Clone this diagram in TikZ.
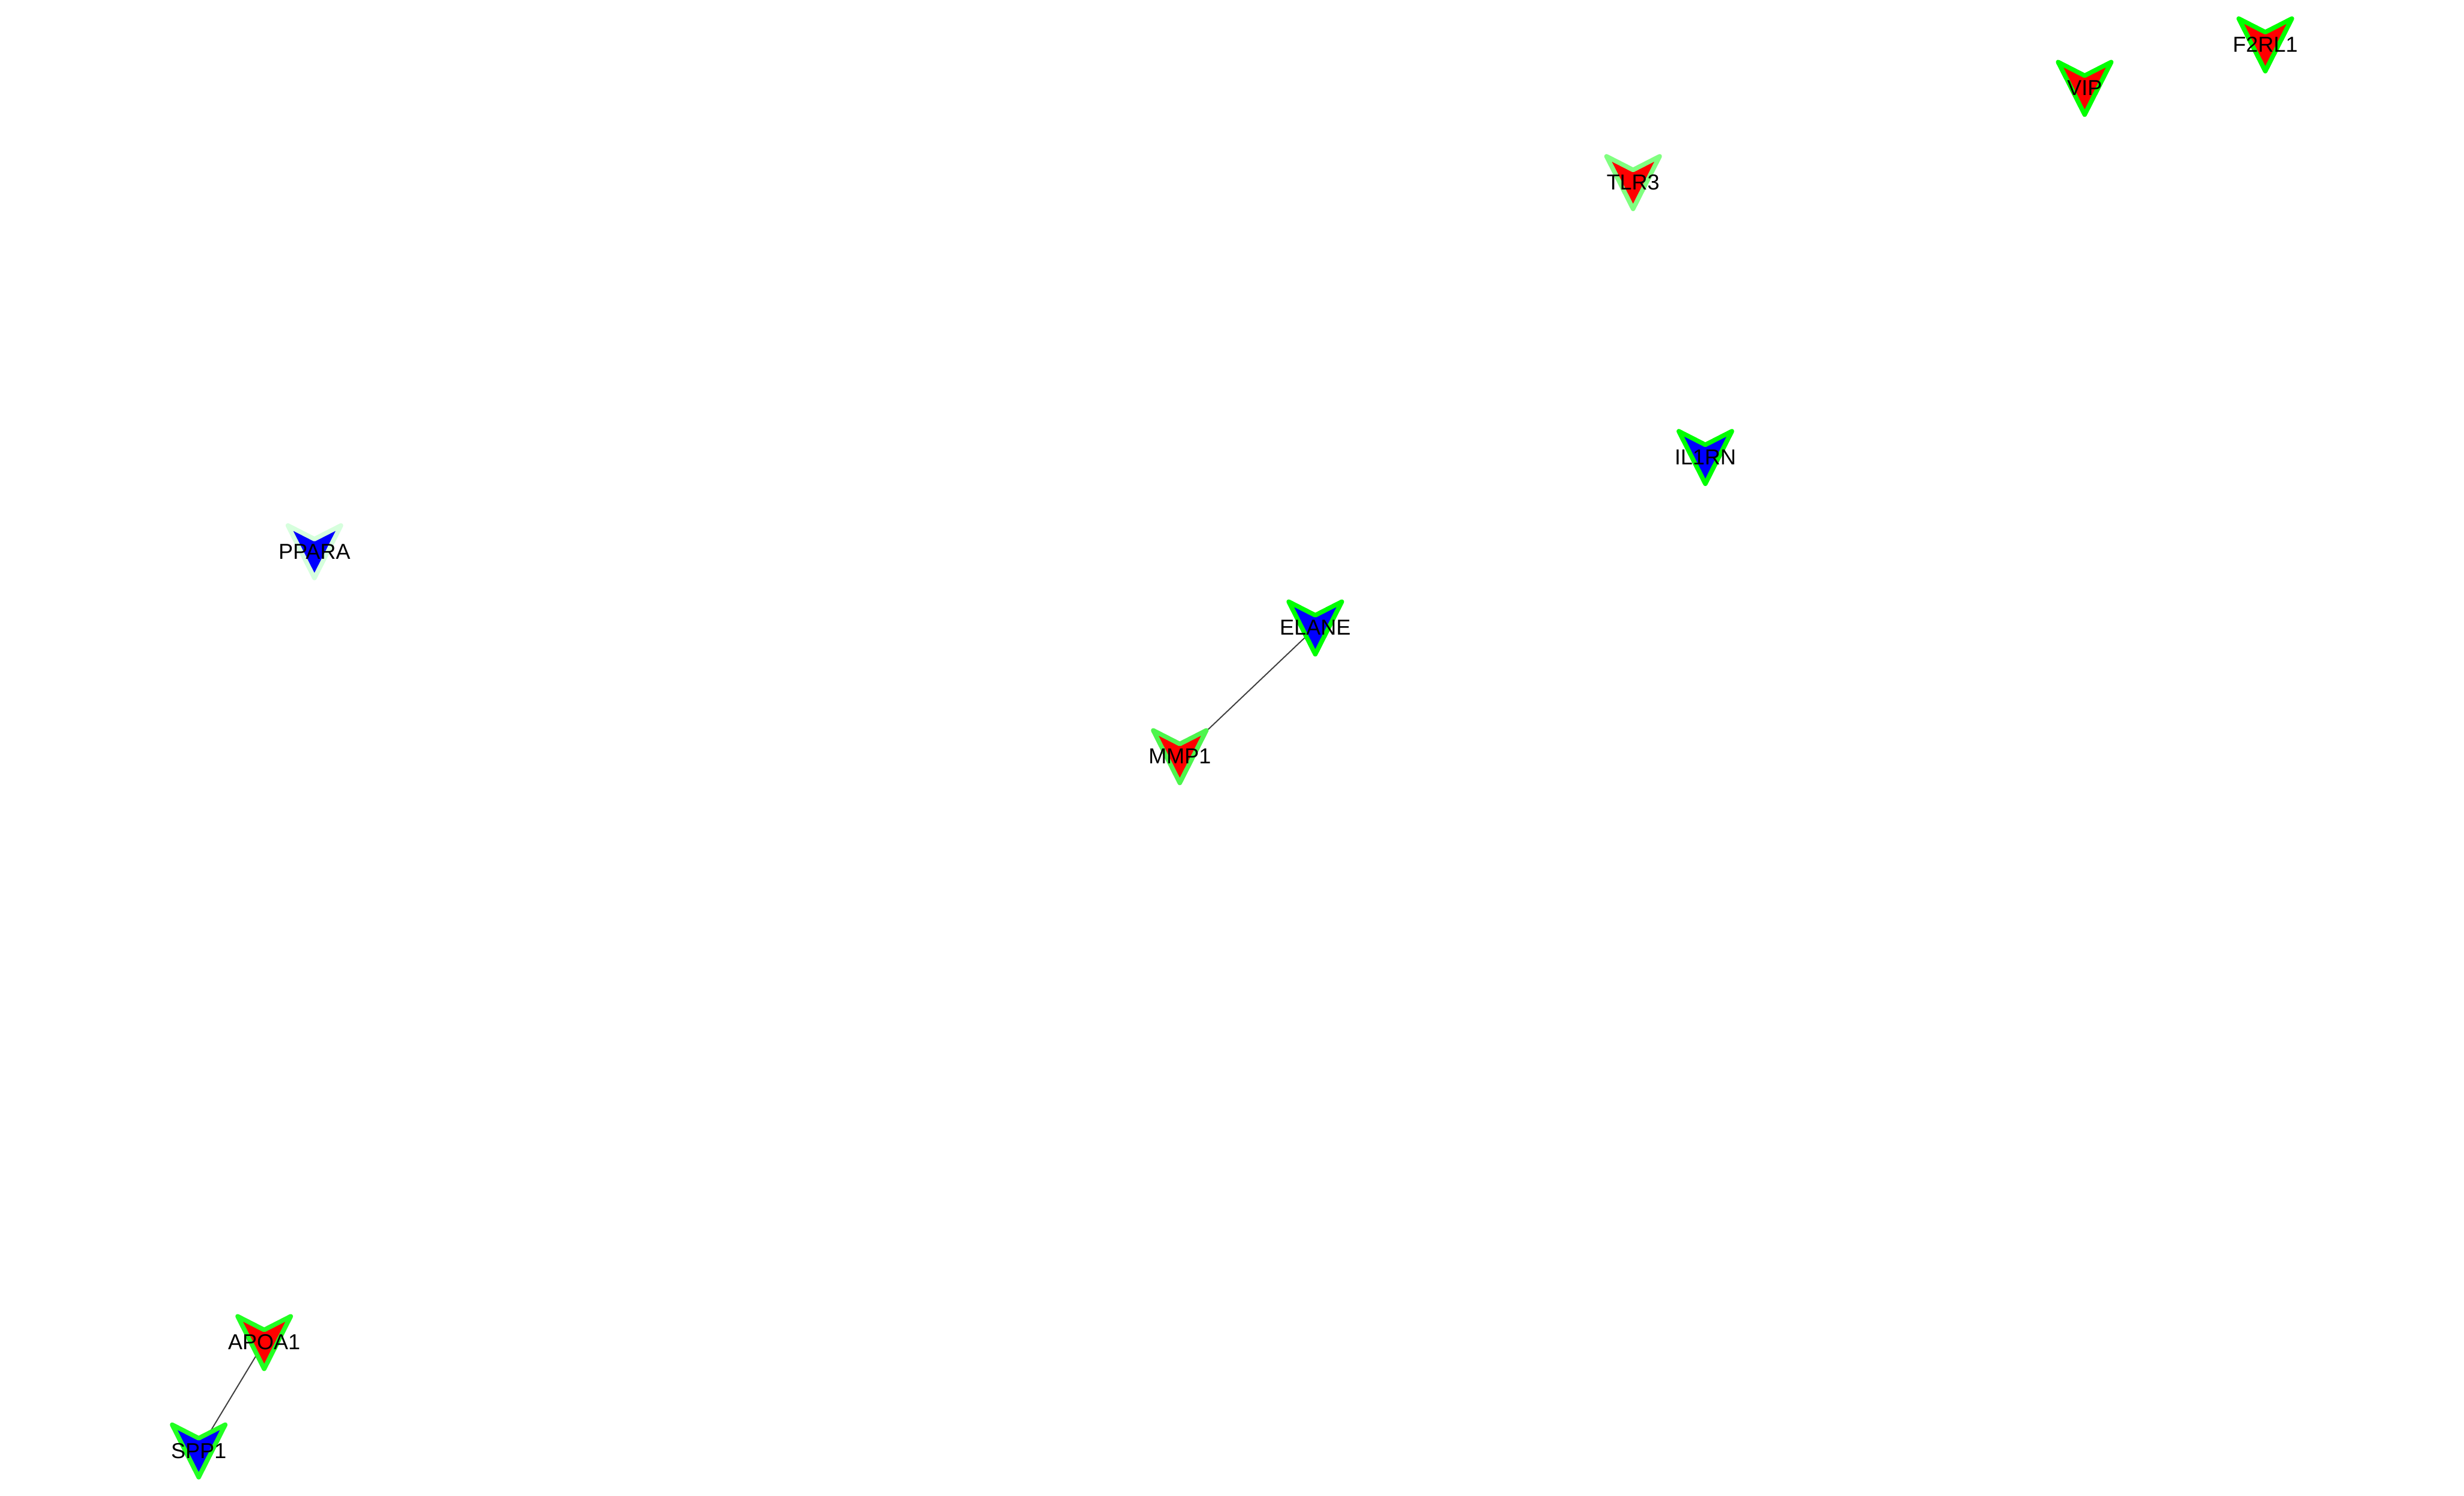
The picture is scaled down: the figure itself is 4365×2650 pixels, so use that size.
\documentclass[tikz,border=0pt]{standalone}
\usepackage{fontspec}
\setmainfont{Liberation Sans}
\usepackage{xcolor}
\usepackage{tikz}
\usetikzlibrary{backgrounds}
\definecolor{upred}{HTML}{FF0000}
\definecolor{downblue}{HTML}{0000FF}
\definecolor{rimA}{HTML}{00FF00}
\definecolor{rimB}{HTML}{22FF22}
\definecolor{rimC}{HTML}{4DF54D}
\definecolor{rimD}{HTML}{80FF80}
\definecolor{rimE}{HTML}{D6FFDD}
\definecolor{linkgray}{HTML}{404040}
% chevron marker + named label node
\newcommand{\gene}[5]{%
  \filldraw[chevron,fill=#3,draw=#4] (#2) ++(-47,-46) -- ++(47,24) -- ++(47,-24) -- ++(-47,93) -- cycle;
  \node[genelabel] (#1) at (#2) {#5};
}

\begin{document}
\begin{tikzpicture}[
    x=0.01cm, y=-0.01cm,
    chevron/.style={line width=2.3pt,line join=round},
    genelabel/.style={inner sep=0pt,font=\fontsize{10.9}{12}\selectfont,text=black},
    link/.style={draw=linkgray,line width=0.6pt}
]
\useasboundingbox (0,0) rectangle (4365,2650);

\gene{F2RL1}{4013,79}{upred}{rimA}{F2RL1}
\gene{VIP}{3693,156}{upred}{rimA}{VIP}
\gene{TLR3}{2893,323}{upred}{rimD}{TLR3}
\gene{IL1RN}{3021,810}{downblue}{rimA}{IL1RN}
\gene{PPARA}{557,977}{downblue}{rimE}{PPARA}
\gene{ELANE}{2330,1112}{downblue}{rimA}{ELANE}
\gene{MMP1}{2090,1340}{upred}{rimC}{MMP1}
\gene{APOA1}{468,2378}{upred}{rimB}{APOA1}
\gene{SPP1}{352,2570}{downblue}{rimB}{SPP1}

\begin{scope}[on background layer]
\draw[link] (ELANE.center) -- (MMP1.center);
\draw[link] (APOA1.center) -- (SPP1.center);
\end{scope}
\end{tikzpicture}
\end{document}
